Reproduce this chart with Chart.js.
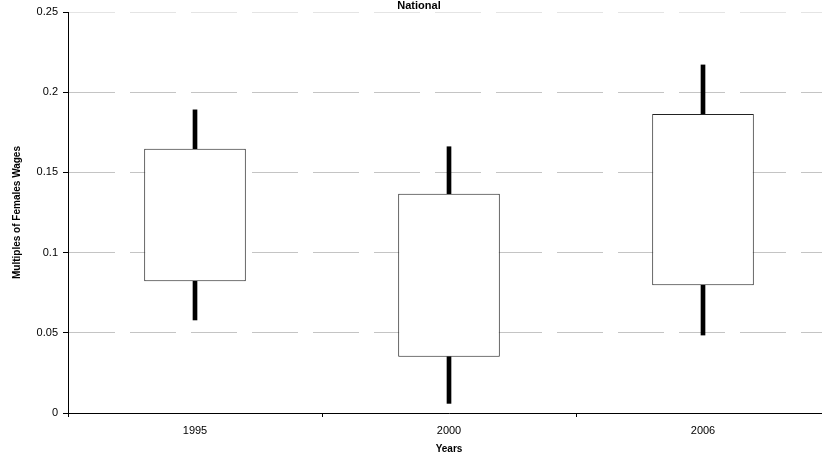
<!DOCTYPE html>
<html>
<head>
<meta charset="utf-8">
<script src="https://cdn.jsdelivr.net/npm/chart.js@4"></script>
<style>
  body { margin: 0; background: #fff; overflow: hidden; }
  #wrap { width: 822px; height: 461px; overflow: hidden; }
</style>
</head>
<body>
<div id="wrap"><canvas id="myChart" width="840" height="461"></canvas></div>
<script>
const years = ['1995', '2000', '2006'];
const whiskerLow = [0.058, 0.006, 0.0486];
const boxLow = [0.0821, 0.0351, 0.0796];
const boxHigh = [0.1648, 0.1367, 0.1864];
const whiskerHigh = [0.189, 0.166, 0.217];
const yTicks = [0, 0.05, 0.1, 0.15, 0.2, 0.25];

const FONT = '"Liberation Sans", Arial, sans-serif';

const pairs = (a, b) => a.map((v, i) => [v, b[i]]);

// chart title sits inside the plot, so draw it by hand
const titlePlugin = {
    id: 'nationalTitle',
    afterDraw(chart) {
        const ctx = chart.ctx;
        ctx.save();
        ctx.font = 'bold 11px ' + FONT;
        ctx.fillStyle = '#000';
        ctx.textAlign = 'center';
        ctx.textBaseline = 'alphabetic';
        ctx.fillText('National', 419, 8.5);
        ctx.restore();
    }
};

const config = {
    type: 'bar',
    data: {
        labels: years,
        datasets: [
            {
                label: 'box',
                data: pairs(boxLow, boxHigh),
                backgroundColor: '#fff',
                borderColor: '#222',
                borderWidth: 1,
                borderSkipped: false,
                barPercentage: 0.4,
                categoryPercentage: 1,
                grouped: false
            },
            {
                label: 'upper',
                data: pairs(boxHigh, whiskerHigh),
                backgroundColor: '#000',
                barThickness: 4,
                grouped: false
            },
            {
                label: 'lower',
                data: pairs(whiskerLow, boxLow),
                backgroundColor: '#000',
                barThickness: 4,
                grouped: false
            }
        ]
    },
    plugins: [titlePlugin],
    options: {
        responsive: false,
        animation: false,
        layout: { padding: { top: 12, right: 10, left: 0, bottom: 0 } },
        plugins: {
            legend: { display: false },
            tooltip: { enabled: false }
        },
        scales: {
            x: {
                offset: true,
                afterFit: (s) => { s.height = 48; },
                border: { color: '#000', width: 1 },
                grid: { offset: true, drawOnChartArea: false, tickLength: 4, tickColor: '#000' },
                ticks: { color: '#000', font: { family: FONT, size: 11 }, padding: 7 },
                title: {
                    display: true,
                    text: 'Years',
                    color: '#000',
                    font: { family: FONT, size: 10, weight: 'bold' },
                    padding: { top: 6, bottom: 6 }
                }
            },
            y: {
                min: 0,
                max: 0.25,
                afterFit: (s) => { s.width = 68; },
                afterBuildTicks: (s) => { s.ticks = yTicks.map(v => ({ value: v })); },
                border: { color: '#000', width: 1, dash: [46, 15], dashOffset: 0 },
                grid: {
                    color: (c) => (c.tick && c.tick.value === 0.25) ? '#e4e4e4' : '#c4c4c4',
                    tickLength: 5,
                    tickColor: '#000',
                    tickBorderDash: []
                },
                ticks: {
                    color: '#000',
                    font: { family: FONT, size: 11 },
                    padding: 5,
                    callback: (v) => String(Math.round(v * 100) / 100)
                },
                title: {
                    display: true,
                    text: 'Multiples of Females Wages',
                    color: '#000',
                    font: { family: FONT, size: 10, weight: 'bold' },
                    padding: { top: 11, bottom: 0 }
                }
            }
        }
    }
};

new Chart(document.getElementById('myChart'), config);
</script>
</body>
</html>
